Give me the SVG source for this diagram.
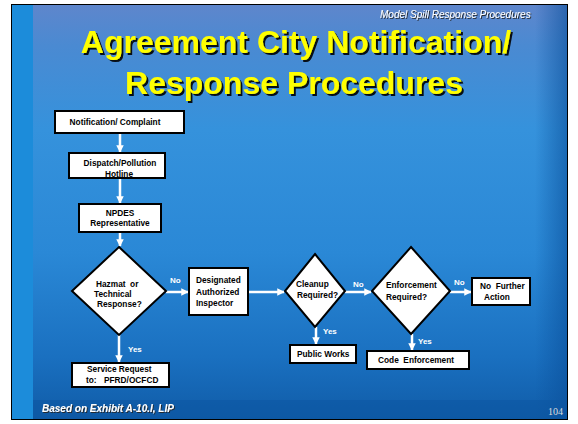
<svg xmlns="http://www.w3.org/2000/svg" width="578" height="424" viewBox="0 0 578 424">
<defs>
<linearGradient id="bg" x1="0" y1="0" x2="0" y2="1">
<stop offset="0" stop-color="#5e86cc"/>
<stop offset="0.1" stop-color="#4a8ad2"/>
<stop offset="0.3" stop-color="#3592dc"/>
<stop offset="0.6" stop-color="#2a88d6"/>
<stop offset="0.85" stop-color="#1a70c0"/>
<stop offset="1" stop-color="#105ca8"/>
</linearGradient>
<linearGradient id="rightShade" x1="0" y1="0" x2="1" y2="0">
<stop offset="0" stop-color="#0a4f9a" stop-opacity="0"/>
<stop offset="1" stop-color="#0a4f9a" stop-opacity="0.6"/>
</linearGradient>
<filter id="sh" x="-5%" y="-20%" width="110%" height="140%">
<feDropShadow dx="2" dy="2" stdDeviation="0.4" flood-color="#000000" flood-opacity="0.9"/>
</filter>
<filter id="shs" x="-5%" y="-20%" width="110%" height="160%">
<feDropShadow dx="1" dy="1" stdDeviation="0.3" flood-color="#222222" flood-opacity="0.9"/>
</filter>
<marker id="ah" viewBox="0 0 10 10" refX="9" refY="5" markerWidth="3" markerHeight="3" markerUnits="strokeWidth" orient="auto">
<path d="M0,0 L10,5 L0,10 z" fill="#ffffff"/>
</marker>
</defs>
<style>
.box{fill:#ffffff;stroke:#000000;stroke-width:2}
.t{font-family:"Liberation Sans",Arial,sans-serif;font-weight:bold;font-size:8.3px;fill:#000000;white-space:pre}
.tc{text-anchor:middle}
.lbl{font-family:"Liberation Sans",Arial,sans-serif;font-weight:bold;font-size:8px;fill:#ffffff}
.ln{stroke:#ffffff;stroke-width:2.5;fill:none}
.title{font-family:"Liberation Sans",Arial,sans-serif;font-weight:bold;font-size:32px;text-anchor:middle;fill:#ffff00}
</style>
<rect x="0" y="0" width="578" height="424" fill="#ffffff"/>
<rect x="11" y="4" width="557" height="416" fill="#000000"/>
<rect x="12" y="5" width="555" height="414" fill="url(#bg)"/>
<rect x="12" y="5" width="21" height="414" fill="#1c8cda"/>
<rect x="535" y="5" width="32" height="414" fill="url(#rightShade)"/>
<rect x="33" y="400" width="534" height="19" fill="#0b559f" opacity="0.45"/>

<g id="subtitle">
<text x="380" y="18" font-family="Liberation Sans,Arial,sans-serif" font-style="italic" font-size="10" fill="#ffffff" filter="url(#shs)">Model Spill Response Procedures</text>
</g>
<g id="title" filter="url(#sh)">
<text class="title" x="296" y="53">Agreement City Notification/</text>
<text class="title" x="294" y="94">Response Procedures</text>
</g>

<g id="connectors">
<line class="ln" x1="120" y1="133" x2="120" y2="152" marker-end="url(#ah)"/>
<line class="ln" x1="120" y1="178" x2="120" y2="203" marker-end="url(#ah)"/>
<line class="ln" x1="120" y1="232" x2="120" y2="246" marker-end="url(#ah)"/>
<line class="ln" x1="119" y1="335" x2="119" y2="362" marker-end="url(#ah)"/>
<line class="ln" x1="166" y1="292" x2="188" y2="292" marker-end="url(#ah)"/>
<line class="ln" x1="248" y1="292" x2="284" y2="292" marker-end="url(#ah)"/>
<line class="ln" x1="345" y1="292" x2="371" y2="292" marker-end="url(#ah)"/>
<line class="ln" x1="450" y1="292" x2="471" y2="292" marker-end="url(#ah)"/>
<line class="ln" x1="316" y1="327" x2="316" y2="344" marker-end="url(#ah)"/>
<line class="ln" x1="412" y1="334" x2="412" y2="350" marker-end="url(#ah)"/>
<text class="lbl" x="170" y="283">No</text>
<text class="lbl" x="128" y="352">Yes</text>
<text class="lbl" x="353" y="287">No</text>
<text class="lbl" x="323" y="334">Yes</text>
<text class="lbl" x="454" y="285">No</text>
<text class="lbl" x="418" y="344">Yes</text>
</g>

<g id="notification">
<rect class="box" x="55" y="111" width="129" height="22"/>
<text class="t tc" x="115" y="125">Notification/ Complaint</text>
</g>
<g id="dispatch">
<rect class="box" x="69" y="153" width="96" height="25"/>
<text class="t tc" x="120" y="166">Dispatch/Pollution</text>
<text class="t tc" x="119" y="177">Hotline</text>
</g>
<g id="npdes">
<rect class="box" x="79" y="204" width="82" height="28"/>
<text class="t tc" x="120" y="216">NPDES</text>
<text class="t tc" x="120" y="226">Representative</text>
</g>
<g id="hazmat">
<polygon class="box" points="119,247 166,291 119,335 72,291"/>
<text class="t" x="96" y="287">Hazmat  or</text>
<text class="t" x="94" y="297">Technical</text>
<text class="t" x="97" y="307">Response?</text>
</g>
<g id="service">
<rect class="box" x="72" y="363" width="97" height="24"/>
<text class="t" x="87" y="372">Service Request</text>
<text class="t" x="86" y="383">to:</text>
<text class="t" x="104" y="383">PFRD/OCFCD</text>
</g>
<g id="designated">
<rect class="box" x="189" y="268" width="59" height="47"/>
<text class="t" x="196" y="283">Designated</text>
<text class="t" x="196" y="295">Authorized</text>
<text class="t" x="196" y="306">Inspector</text>
</g>
<g id="cleanup">
<polygon class="box" points="315,254 345,291 315,327 285,291"/>
<text class="t" x="296" y="287">Cleanup</text>
<text class="t" x="297" y="298">Required?</text>
</g>
<g id="publicworks">
<rect class="box" x="290" y="345" width="66" height="18"/>
<text class="t" x="297" y="357">Public Works</text>
</g>
<g id="enforcement">
<polygon class="box" points="411,247 450,291 411,334 372,291"/>
<text class="t" x="386" y="288">Enforcement</text>
<text class="t" x="386" y="300">Required?</text>
</g>
<g id="codeenf">
<rect class="box" x="367" y="351" width="102" height="18"/>
<text class="t" x="378" y="363">Code  Enforcement</text>
</g>
<g id="nofurther">
<rect class="box" x="472" y="278" width="58" height="27"/>
<text class="t" x="480" y="289">No  Further</text>
<text class="t" x="484" y="300">Action</text>
</g>

<g id="footer">
<text x="42" y="412" font-family="Liberation Sans,Arial,sans-serif" font-style="italic" font-weight="bold" font-size="10" fill="#ffffff" filter="url(#shs)">Based on Exhibit A-10.I, LIP</text>
<text x="548" y="415" font-family="Liberation Serif,Times New Roman,serif" font-size="10" fill="#dddddd">104</text>
</g>
</svg>
